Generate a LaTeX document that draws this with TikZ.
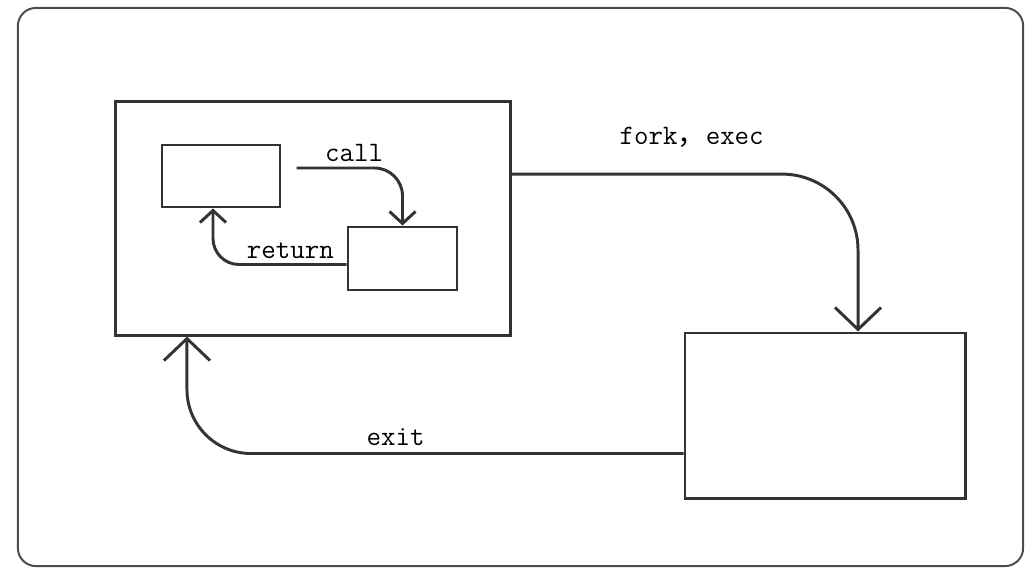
\documentclass[tikz,border=0pt]{standalone}
\usepackage{fontspec}
\newfontfamily\cjk{Noto Sans CJK SC}
\usetikzlibrary{arrows.meta, positioning}

\begin{document}
\begin{tikzpicture}[x=0.025cm,y=-0.025cm,->,>={Straight Barb[length=0.3cm,width=0.65cm]},
                    line width=2.1pt,draw=black!80,
                    font=\ttfamily\fontsize{20}{24}\selectfont]
  \tikzstyle{box}=[draw=black!80,fill=white,inner sep=0pt]
  \tikzstyle{frame}=[draw=black!70,line width=1.4pt,rounded corners=0.45cm,inner sep=0pt]
  \tikzstyle{wide}=[>={Straight Barb[length=0.55cm,width=1.15cm]}]

  \useasboundingbox (0,0) rectangle (1036,571);

  \node[frame] (border) [minimum width=25.125cm, minimum height=13.95cm] at (520.5,287) {};
  \node[box]   (proc)   [minimum width=9.85cm, minimum height=5.825cm] at (313,218.5) {};
  \node[box]   (caller) [minimum width=2.95cm, minimum height=1.55cm] at (221,176) {};
  \node[box]   (callee) [minimum width=2.725cm, minimum height=1.575cm] at (402.5,258.5) {};
  \node[box]   (child)  [minimum width=7cm, minimum height=4.125cm] at (825,415.5) {};

  \draw[rounded corners=0.7cm, shorten <=0.375cm]
        ([yshift=0.2cm]caller.east) -| node[above, pos=0.3] {call} (callee.north);
  \draw[rounded corners=0.65cm]
        ([yshift=-0.15cm]callee.west) -| node[above, pos=0.21] {return} ([xshift=-0.2cm]caller.south);
  \draw[wide, rounded corners=1.9cm]
        ([yshift=1.11cm]proc.east) -| node[above, pos=0.26, yshift=0.5cm] {fork{\cjk ，}exec} ([xshift=0.825cm]child.north);
  \draw[wide, rounded corners=1.6cm]
        ([yshift=-0.95cm]child.west) -| node[above, pos=0.29, yshift=0.05cm] {exit} ([xshift=-3.15cm]proc.south);
\end{tikzpicture}
\end{document}
